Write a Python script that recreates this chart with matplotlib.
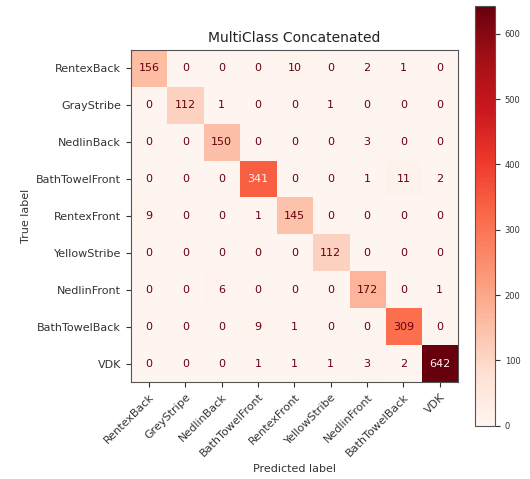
import numpy as np
import matplotlib
matplotlib.use("Agg")
import matplotlib.pyplot as plt

true_labels = ["RentexBack", "GrayStribe", "NedlinBack", "BathTowelFront", "RentexFront",
               "YellowStribe", "NedlinFront", "BathTowelBack", "VDK"]
pred_labels = ["RentexBack", "GreyStripe", "NedlinBack", "BathTowelFront", "RentexFront",
               "YellowStribe", "NedlinFront", "BathTowelBack", "VDK"]

row_rentexback = [156, 0, 0, 0, 10, 0, 2, 1, 0]
row_graystribe = [0, 112, 1, 0, 0, 1, 0, 0, 0]
row_nedlinback = [0, 0, 150, 0, 0, 0, 3, 0, 0]
row_bathtowelfront = [0, 0, 0, 341, 0, 0, 1, 11, 2]
row_rentexfront = [9, 0, 0, 1, 145, 0, 0, 0, 0]
row_yellowstribe = [0, 0, 0, 0, 0, 112, 0, 0, 0]
row_nedlinfront = [0, 0, 6, 0, 0, 0, 172, 0, 1]
row_bathtowelback = [0, 0, 0, 9, 1, 0, 0, 309, 0]
row_vdk = [0, 0, 0, 1, 1, 1, 3, 2, 642]

cm = np.array([row_rentexback, row_graystribe, row_nedlinback, row_bathtowelfront,
               row_rentexfront, row_yellowstribe, row_nedlinfront, row_bathtowelback, row_vdk])

fig = plt.figure(figsize=(5.3, 4.79), dpi=100)
ax = fig.add_axes([0.247, 0.2025, 0.617, 0.693])
cax = fig.add_axes([0.896, 0.111, 0.038, 0.876])

text_color = "#333333"
cmap = plt.get_cmap("Reds")
im = ax.imshow(cm, cmap=cmap, interpolation="nearest", aspect="auto")
n = cm.shape[0]
thresh = (cm.max() + cm.min()) / 2.0
for i in range(n):
    for j in range(n):
        color = cmap(0.0) if cm[i, j] > thresh else cmap(1.0)
        ax.text(j, i, str(cm[i, j]), ha="center", va="center", color=color, fontsize=8)

ax.set_xticks(range(n))
ax.set_yticks(range(n))
ax.set_xticklabels(pred_labels, rotation=45, ha="right", rotation_mode="anchor",
                   fontsize=8, color=text_color)
ax.set_yticklabels(true_labels, fontsize=8, color=text_color)
ax.tick_params(colors=text_color, labelcolor=text_color)
for s in ax.spines.values():
    s.set_color("#555555")
ax.set_xlabel("Predicted label", fontsize=8, color=text_color)
ax.set_ylabel("True label", fontsize=8, color=text_color)
ax.set_title("MultiClass Concatenated", fontsize=10, color="#222222")

cb = fig.colorbar(im, cax=cax)
cb.set_ticks([0, 100, 200, 300, 400, 500, 600])
cb.ax.tick_params(labelsize=6, colors=text_color)
cb.outline.set_edgecolor("#555555")

fig.savefig("out.png", dpi=100)
